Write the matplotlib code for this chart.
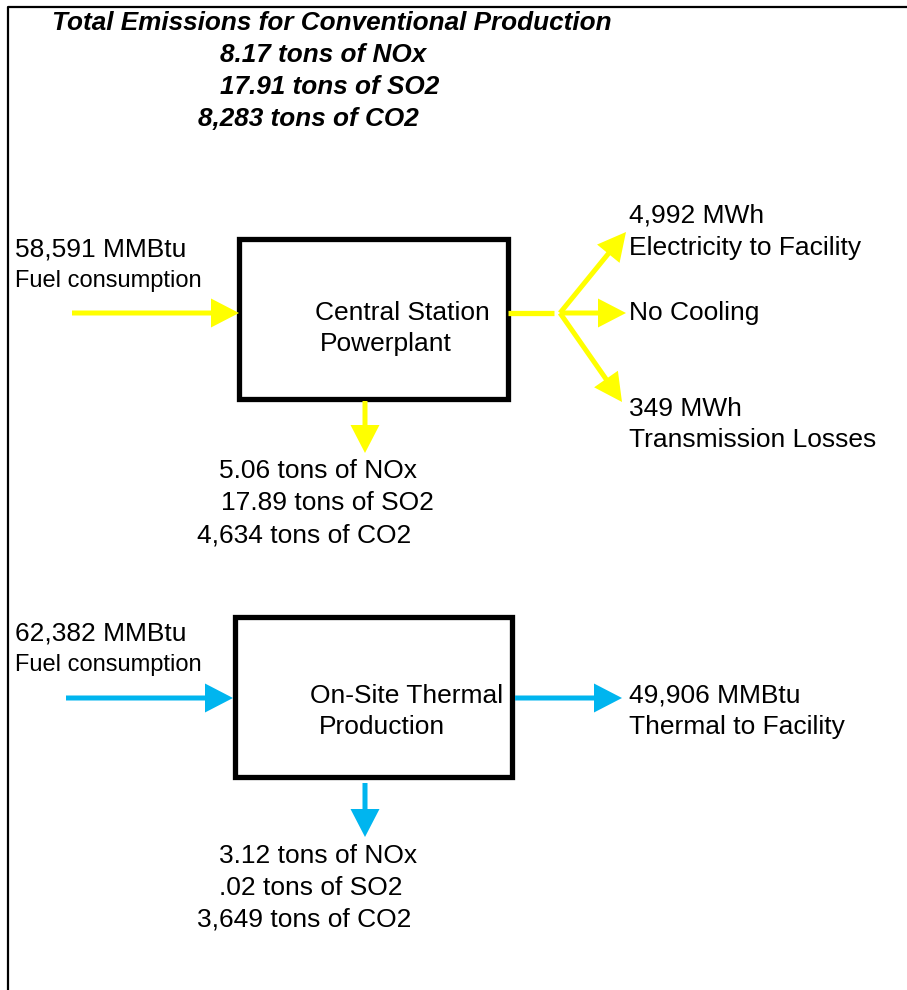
import matplotlib.pyplot as plt
from matplotlib.patches import Rectangle

# values
total_lines = ['Total Emissions for Conventional Production',
               '8.17 tons of NOx', '17.91 tons of SO2', '8,283 tons of CO2']
central_fuel = ['58,591 MMBtu', 'Fuel consumption']
central_name = ['Central Station', 'Powerplant']
central_outputs = ['4,992 MWh', 'Electricity to Facility', 'No Cooling',
                   '349 MWh', 'Transmission Losses']
central_emissions = ['5.06 tons of NOx', '17.89 tons of SO2', '4,634 tons of CO2']
thermal_fuel = ['62,382 MMBtu', 'Fuel consumption']
thermal_name = ['On-Site Thermal', 'Production']
thermal_output = ['49,906 MMBtu', 'Thermal to Facility']
thermal_emissions = ['3.12 tons of NOx', '.02 tons of SO2', '3,649 tons of CO2']

YEL = '#FFFF00'
CYAN = '#00B5EF'
plt.rcParams['font.family'] = ['Liberation Sans', 'DejaVu Sans']

fig = plt.figure(figsize=(9.07, 9.9), dpi=100)
ax = fig.add_axes([0, 0, 1, 1])
ax.set_xlim(0, 907)
ax.set_ylim(990, 0)
ax.axis('off')

# outer frame (top and left only visible)
ax.plot([8, 8, 907], [990, 7, 7], color='black', lw=1.6)

# header
hdr = dict(fontsize=18.8, fontweight='bold', fontstyle='italic', va='center', ha='left',
           family=['Liberation Sans Narrow', 'Liberation Sans'])
for (x, y), s in zip([(52, 23), (220, 55), (220, 87), (198, 119)], total_lines):
    ax.text(x, y, s, **hdr)

def put(x, y, s, size=19):
    ax.text(x, y + 2, s, fontsize=size, va='center', ha='left')

def arrow(x, y, dx, dy, c):
    ax.arrow(x, y, dx, dy, width=5, head_width=29, head_length=28,
             length_includes_head=True, color=c, lw=0)

# central station
ax.add_patch(Rectangle((239, 239), 269, 160, fill=False, lw=3.8, ec='black'))
put(315, 311, central_name[0])
put(320, 342, central_name[1])
put(15, 247, central_fuel[0])
put(15, 279, central_fuel[1], 17)
arrow(72, 313, 167, 0, YEL)
ax.plot([508, 554], [313, 313], color=YEL, lw=3.8, solid_capstyle='butt')
arrow(560, 313, 66, -81, YEL)
arrow(560, 313, 66, 0, YEL)
arrow(560, 313, 62, 89, YEL)
for (x, y), s in zip([(629, 214), (629, 246), (629, 311), (629, 407), (629, 438)],
                     central_outputs):
    put(x, y, s)
arrow(365, 401, 0, 52, YEL)
for (x, y), s in zip([(219, 469), (221, 501), (197, 533)], central_emissions):
    put(x, y, s)

# on-site thermal
ax.add_patch(Rectangle((235, 617), 277, 160, fill=False, lw=3.8, ec='black'))
put(310, 694, thermal_name[0])
put(319, 725, thermal_name[1])
put(15, 632, thermal_fuel[0])
put(15, 663, thermal_fuel[1], 17)
arrow(66, 698, 167, 0, CYAN)
arrow(515, 698, 107, 0, CYAN)
put(629, 694, thermal_output[0])
put(629, 725, thermal_output[1])
arrow(365, 783, 0, 54, CYAN)
for (x, y), s in zip([(219, 854), (219, 886), (197, 917)], thermal_emissions):
    put(x, y, s)

fig.savefig('out.png', dpi=100)
